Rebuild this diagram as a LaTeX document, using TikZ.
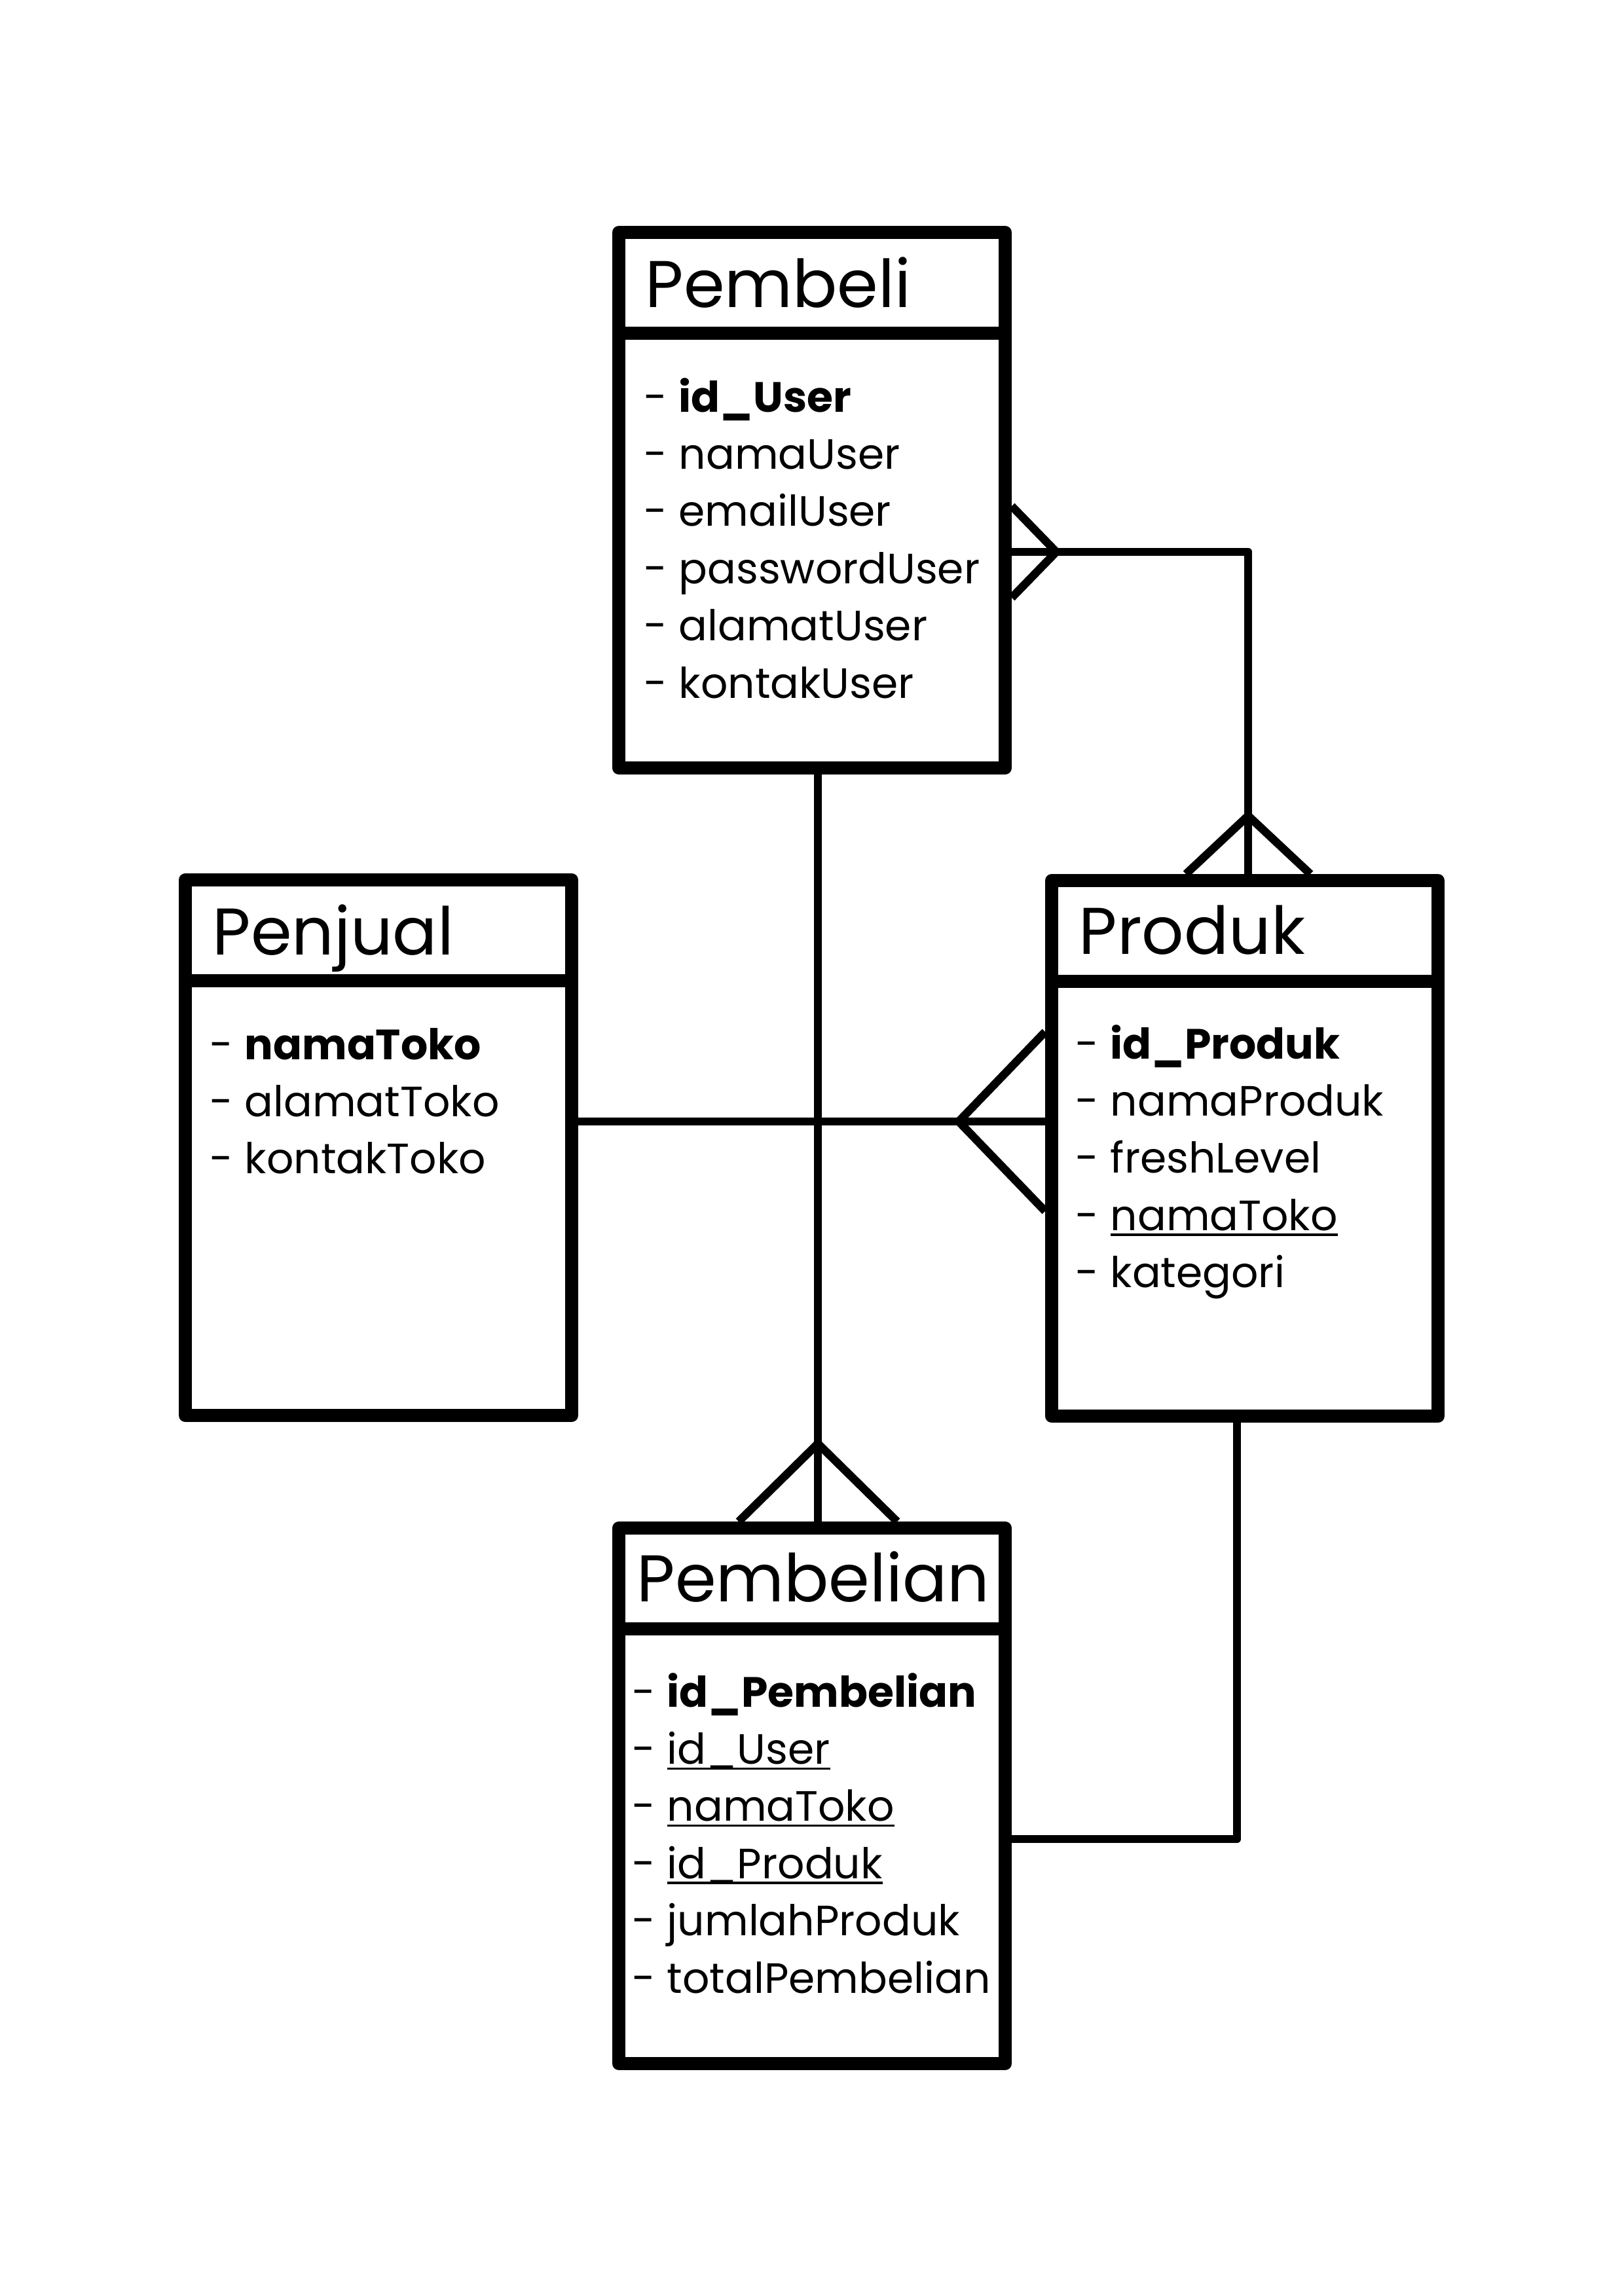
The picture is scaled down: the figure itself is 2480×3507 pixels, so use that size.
\documentclass[tikz,border=0pt]{standalone}
\usepackage{fontspec}
\setmainfont{Poppins}
\usetikzlibrary{calc}
\newcommand{\ulk}[1]{\setbox0=\hbox{#1}\rlap{\rule[-2.0pt]{\wd0}{0.75pt}}\box0}
\begin{document}
\begin{tikzpicture}[x={(0.2409pt,0)}, y={(0,-0.2409pt)},
  entity/.style={draw, line width=4.818pt, line join=round, minimum width=142.13pt, minimum height=197.06pt, inner sep=0pt},
  divider/.style={line width=4.818pt},
  rel/.style={line width=3.0pt, line join=round},
  title/.style={anchor=base west, inner sep=0pt, font=\fontsize{24.3}{29}\selectfont},
  attr/.style={anchor=base west, inner sep=0pt, font=\fontsize{15.6}{19}\selectfont}]
\useasboundingbox (0,0) rectangle (2480,3507);

% entities
\node[entity] (pembeli) at (1240,764) {};
\node[entity] (penjual) at (578,1753) {};
\node[entity] (produk) at (1901,1754) {};
\node[entity] (pembelian) at (1240,2743) {};

% header dividers
\draw[divider] ($(pembeli.north west)+(0,164)$) -- ($(pembeli.north east)+(0,164)$);
\draw[divider] ($(penjual.north west)+(0,164)$) -- ($(penjual.north east)+(0,164)$);
\draw[divider] ($(produk.north west)+(0,164)$) -- ($(produk.north east)+(0,164)$);
\draw[divider] ($(pembelian.north west)+(0,164)$) -- ($(pembelian.north east)+(0,164)$);

% titles
\node[title] (tpembeli) at ($(pembeli.north west)+(50,124)$) {Pembeli};
\node[title] (tpenjual) at ($(penjual.north west)+(51,124)$) {Penjual};
\node[title] (tproduk) at ($(produk.north west)+(51,122)$) {Produk};
\node[title] (tpembelian) at ($(pembelian.north west)+(37,122)$) {Pembelian};

% Pembeli attributes
\node[attr] (a1) at ($(pembeli.north west)+(48,284)$) {- \textbf{id\_User}};
\node[attr] (a2) at ($(pembeli.north west)+(48,371.4)$) {- namaUser};
\node[attr] (a3) at ($(pembeli.north west)+(48,458.8)$) {- emailUser};
\node[attr] (a4) at ($(pembeli.north west)+(48,546.2)$) {- passwordUser};
\node[attr] (a5) at ($(pembeli.north west)+(48,633.6)$) {- alamatUser};
\node[attr] (a6) at ($(pembeli.north west)+(48,721)$) {- kontakUser};

% Penjual attributes
\node[attr] (b1t) at ($(penjual.north west)+(47,284)$) {- \textbf{namaToko}};
\node[attr] (b2t) at ($(penjual.north west)+(47,371.4)$) {- alamatToko};
\node[attr] (b3t) at ($(penjual.north west)+(47,458.8)$) {- kontakToko};

% Produk attributes
\node[attr] (c1t) at ($(produk.north west)+(46,282)$) {- \textbf{id\_Produk}};
\node[attr] (c2t) at ($(produk.north west)+(46,369.4)$) {- namaProduk};
\node[attr] (c3t) at ($(produk.north west)+(46,456.8)$) {- freshLevel};
\node[attr] (c4t) at ($(produk.north west)+(46,544.2)$) {- \ulk{namaToko}};
\node[attr] (c5t) at ($(produk.north west)+(46,631.6)$) {- kategori};

% Pembelian attributes
\node[attr] (d1t) at ($(pembelian.north west)+(30,283)$) {- \textbf{id\_Pembelian}};
\node[attr] (d2t) at ($(pembelian.north west)+(30,370.4)$) {- \ulk{id\_User}};
\node[attr] (d3t) at ($(pembelian.north west)+(30,457.8)$) {- \ulk{namaToko}};
\node[attr] (d4t) at ($(pembelian.north west)+(30,545.2)$) {- \ulk{id\_Produk}};
\node[attr] (d5t) at ($(pembelian.north west)+(30,632.6)$) {- jumlahProduk};
\node[attr] (d6t) at ($(pembelian.north west)+(30,720)$) {- totalPembelian};

% Pembeli -- Pembelian (many at Pembelian)
\coordinate (pp1) at ($(pembeli.south)+(9,0)$);
\coordinate (pp2) at ($(pembelian.north)+(9,0)$);
\draw[rel] (pp1) -- (pp2);
\draw[rel] ($(pp2)+(-121,0)$) -- ($(pp2)+(0,-119)$) -- ($(pp2)+(121,0)$);

% Pembeli -- Produk (many at both ends)
\coordinate (q1) at ($(pembeli.east)+(0,79)$);
\coordinate (q2) at ($(produk.north)+(5,0)$);
\draw[rel] (q1) -- (q1 -| q2) -- (q2);
\draw[rel] ($(q1)+(0,-70)$) -- ($(q1)+(68,0)$) -- ($(q1)+(0,70)$);
\draw[rel] ($(q2)+(-95,0)$) -- ($(q2)+(0,-89)$) -- ($(q2)+(95,0)$);

% Penjual -- Produk (many at Produk)
\coordinate (j1) at ($(penjual.east)+(0,-40)$);
\coordinate (j2) at (produk.west |- j1);
\draw[rel] (j1) -- (j2);
\draw[rel] ($(j2)+(0,-137)$) -- ($(j2)+(-132,0)$) -- ($(j2)+(0,137)$);

% Produk -- Pembelian
\coordinate (k1) at ($(produk.south)+(-12,0)$);
\coordinate (k2) at ($(pembelian.east)+(0,66)$);
\draw[rel] (k1) -- (k1 |- k2) -- (k2);
\end{tikzpicture}
\end{document}
